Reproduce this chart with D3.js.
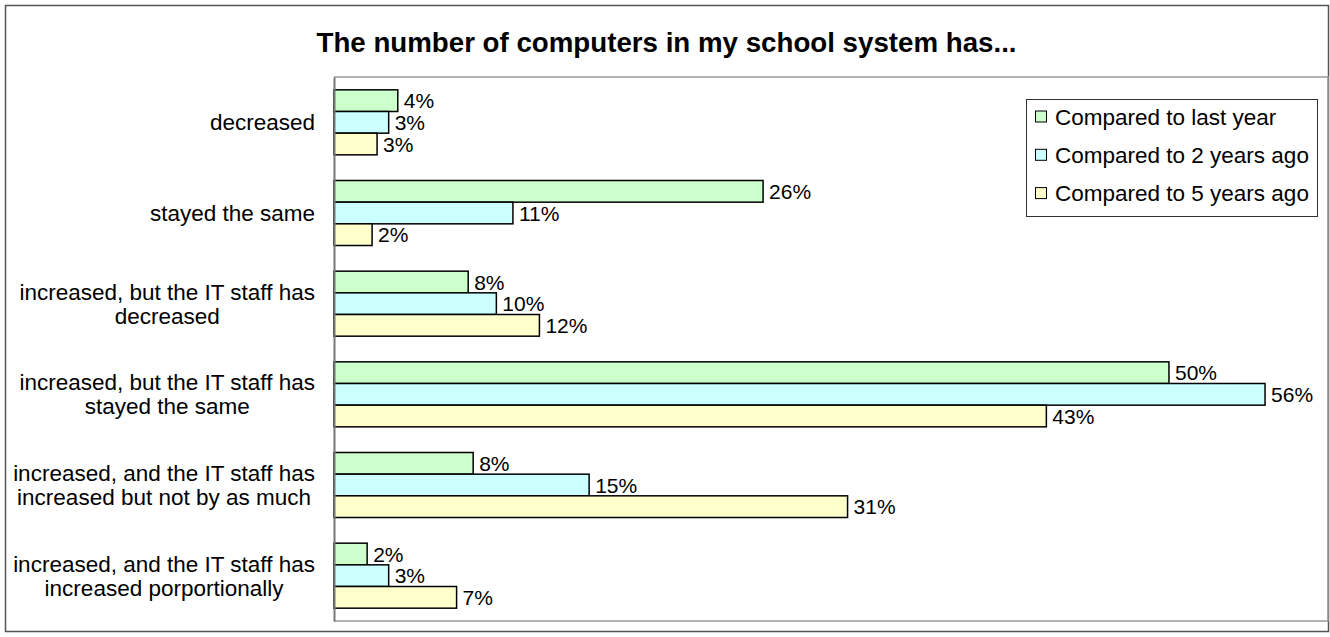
<!DOCTYPE html>
<html>
<head>
<meta charset="utf-8">
<script src="https://cdn.jsdelivr.net/npm/d3@7"></script>
<style>
  html, body { margin: 0; padding: 0; background: #fff; }
  svg { display: block; font-family: "Liberation Sans", Arial, sans-serif; }
</style>
</head>
<body>
<svg id="chart" width="1330" height="637"></svg>
<script>
// Survey answers: how the number of computers has changed
const categories = [
  "decreased",
  "stayed the same",
  "increased, but the IT staff has\ndecreased",
  "increased, but the IT staff has\nstayed the same",
  "increased, and the IT staff has\nincreased but not by as much",
  "increased, and the IT staff has\nincreased porportionally"
];
const seriesNames = ["Compared to last year", "Compared to 2 years ago", "Compared to 5 years ago"];
const lastYear  = [0.0385, 0.259, 0.081, 0.504, 0.084, 0.020];
const twoYears  = [0.033, 0.108, 0.098, 0.562, 0.154, 0.033];
const fiveYears = [0.026, 0.023, 0.124, 0.430, 0.310, 0.074];
const seriesColors = ["#CCFFCC", "#CCFFFF", "#FFFFCC"];
const titleText = "The number of computers in my school system has...";

const series = [lastYear, twoYears, fiveYears];

const svg = d3.select("#chart");
const plot = { left: 334, right: 1328, top: 77, bottom: 621 };

// outer chart frame
svg.append("rect")
  .attr("x", 5.5).attr("y", 5.5)
  .attr("width", 1323).attr("height", 626)
  .attr("fill", "#fff").attr("stroke", "#555").attr("stroke-width", 1.5);

// title
svg.append("text")
  .attr("x", (5 + 1328) / 2).attr("y", 52)
  .attr("text-anchor", "middle")
  .attr("font-weight", "bold")
  .attr("font-size", 27.7)
  .text(titleText);

const x = d3.scaleLinear().domain([0, 0.6]).range([plot.left, plot.right]);
const y = d3.scaleBand().domain(d3.range(categories.length))
  .range([plot.top, plot.bottom])
  .paddingInner(0.283).paddingOuter(0.1415);
const ySub = d3.scaleBand().domain(d3.range(series.length)).range([0, y.bandwidth()]);

// plot area frame (top, right, bottom)
svg.append("path")
  .attr("d", `M${plot.left},${plot.top}H${plot.right}V${plot.bottom}H${plot.left}`)
  .attr("fill", "none").attr("stroke", "#999").attr("stroke-width", 1.5);

// bars
const groups = svg.append("g").selectAll("g")
  .data(categories)
  .join("g")
  .attr("transform", (d, i) => `translate(0,${y(i)})`);

groups.selectAll("rect")
  .data((d, i) => series.map((s, k) => ({ k, v: s[i] })))
  .join("rect")
  .attr("x", x(0))
  .attr("y", d => ySub(d.k))
  .attr("width", d => x(d.v) - x(0))
  .attr("height", ySub.bandwidth())
  .attr("fill", d => seriesColors[d.k])
  .attr("stroke", "#000")
  .attr("stroke-width", 1.5);

// value labels
const fmt = d3.format(".0%");
groups.selectAll("text.val")
  .data((d, i) => series.map((s, k) => ({ k, v: s[i] })))
  .join("text")
  .attr("class", "val")
  .attr("x", d => x(d.v) + 6)
  .attr("y", d => ySub(d.k) + ySub.bandwidth() / 2)
  .attr("dy", "0.36em")
  .attr("font-size", 21)
  .text(d => fmt(d.v));

// category axis
const yAxis = svg.append("g")
  .attr("transform", `translate(${plot.left},0)`)
  .call(d3.axisLeft(y).tickSize(0).tickFormat(""));
yAxis.select(".domain").attr("stroke", "#777").attr("stroke-width", 2);

// category labels: centred lines, block right-aligned next to the axis
const labelRight = 315, lineH = 24;
categories.forEach((c, i) => {
  const lines = c.split("\n");
  const t = svg.append("text")
    .attr("font-size", 22.5)
    .attr("text-anchor", "middle");
  const cy = y(i) + y.bandwidth() / 2;
  lines.forEach((ln, j) => {
    t.append("tspan")
      .attr("y", cy + (j - (lines.length - 1) / 2) * lineH)
      .attr("dy", "0.36em")
      .text(ln);
  });
  const maxW = d3.max(t.selectAll("tspan").nodes(), n => n.getComputedTextLength());
  t.selectAll("tspan").attr("x", labelRight - maxW / 2);
});

// legend
const lg = svg.append("g");
lg.append("rect")
  .attr("x", 1026.5).attr("y", 99.5)
  .attr("width", 291).attr("height", 117)
  .attr("fill", "#fff").attr("stroke", "#333").attr("stroke-width", 1);
seriesNames.forEach((name, k) => {
  const cy = 116.5 + k * 38.3;
  lg.append("rect")
    .attr("x", 1035.5).attr("y", cy - 5.5)
    .attr("width", 11).attr("height", 11)
    .attr("fill", seriesColors[k]).attr("stroke", "#000").attr("stroke-width", 1);
  lg.append("text")
    .attr("x", 1055).attr("y", cy)
    .attr("dy", "0.36em")
    .attr("font-size", 22.5)
    .text(name);
});
</script>
</body>
</html>
